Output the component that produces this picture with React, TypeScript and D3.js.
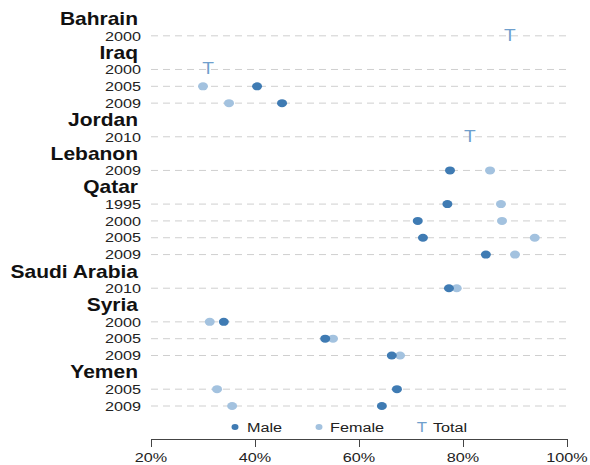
import React, {useEffect, useRef} from 'react'
import * as d3 from 'd3'

type Row = {country: string; year?: string; male?: number; female?: number; total?: number}

const countries = ['Bahrain', 'Iraq', 'Jordan', 'Lebanon', 'Qatar', 'Saudi Arabia', 'Syria', 'Yemen']
const years: string[][] = [
    ['2000'],
    ['2000', '2005', '2009'],
    ['2010'],
    ['2009'],
    ['1995', '2000', '2005', '2009'],
    ['2010'],
    ['2000', '2005', '2009'],
    ['2005', '2009'],
]
const maleValues: (number | null)[][] = [
    [null],
    [null, 40.4, 45.2],
    [null],
    [77.5],
    [77, 71.3, 72.3, 84.4],
    [77.3],
    [34, 53.5, 66.3],
    [67.3, 64.4],
]
const femaleValues: (number | null)[][] = [
    [null],
    [null, 30, 35],
    [null],
    [85.2],
    [87.3, 87.5, 93.8, 90],
    [78.8],
    [31.3, 55, 67.9],
    [32.7, 35.6],
]
const totalValues: (number | null)[][] = [
    [89],
    [31, null, null],
    [81.3],
    [null],
    [null, null, null, null],
    [null],
    [null, null, null],
    [null, null],
]
const xTicks = [20, 40, 60, 80, 100]

const MALE = '#3f7bb3'
const FEMALE = '#a3c2df'
const TOTAL = '#6f9fcd'
const SX = 1.2 // the reference text is a bit stretched sideways

export default function App() {
    const svgRef = useRef<SVGSVGElement>(null)

    useEffect(() => {
        const svg = d3.select(svgRef.current)
        svg.selectAll('*').remove()

        const font = 'Liberation Sans, Arial, sans-serif'
        const rows: Row[] = []
        countries.forEach((c, ci) => {
            rows.push({country: c})
            years[ci].forEach((y, yi) => {
                rows.push({
                    country: c,
                    year: y,
                    male: maleValues[ci][yi] ?? undefined,
                    female: femaleValues[ci][yi] ?? undefined,
                    total: totalValues[ci][yi] ?? undefined,
                })
            })
        })

        const x = d3.scaleLinear().domain([20, 100]).range([151, 567])
        const y = d3.scaleLinear().domain([0, rows.length - 1]).range([19, 406])

        const g = svg.append('g').attr('font-family', font)

        // text with a horizontal stretch, anchored at (tx, ty)
        const label = (tx: number, ty: number, txt: string, size: number, anchor: string, opts: any = {}) =>
            g.append('text')
                .attr('transform', `translate(${tx},${ty}) scale(${SX},1)`)
                .attr('text-anchor', anchor)
                .attr('dy', '0.35em')
                .attr('font-size', size)
                .attr('font-weight', opts.bold ? 'bold' : 'normal')
                .attr('fill', opts.fill ?? '#222')
                .text(txt)

        rows.forEach((r, i) => {
            const yy = y(i)
            if (!r.year) {
                label(138, yy, r.country, 17.5, 'end', {bold: true, fill: '#111'})
                return
            }
            label(141, yy, r.year, 13.5, 'end')
            g.append('line')
                .attr('x1', x(20)).attr('x2', x(100))
                .attr('y1', yy).attr('y2', yy)
                .attr('stroke', '#cfcfcf').attr('stroke-width', 1)
                .attr('stroke-dasharray', '7,5')
            if (r.female != null) {
                g.append('ellipse').attr('cx', x(r.female)).attr('cy', yy).attr('rx', 5).attr('ry', 4).attr('fill', FEMALE)
            }
            if (r.male != null) {
                g.append('ellipse').attr('cx', x(r.male)).attr('cy', yy).attr('rx', 5).attr('ry', 4).attr('fill', MALE)
            }
            if (r.total != null) {
                g.append('text')
                    .attr('transform', `translate(${x(r.total)},${yy + 5}) scale(${SX},1)`)
                    .attr('text-anchor', 'middle')
                    .attr('font-size', 16)
                    .attr('fill', TOTAL)
                    .text('T')
            }
        })

        // legend
        const ly = 427
        const legend = [
            {label: 'Male', lx: 235, tx: 247, kind: 'dot', color: MALE},
            {label: 'Female', lx: 319, tx: 330, kind: 'dot', color: FEMALE},
            {label: 'Total', lx: 422, tx: 433, kind: 'T', color: TOTAL},
        ]
        legend.forEach(l => {
            if (l.kind === 'dot') {
                g.append('ellipse').attr('cx', l.lx).attr('cy', ly).attr('rx', 3.5).attr('ry', 3).attr('fill', l.color)
            } else {
                g.append('text')
                    .attr('transform', `translate(${l.lx},${ly + 5}) scale(${SX},1)`)
                    .attr('text-anchor', 'middle')
                    .attr('font-size', 14).attr('fill', l.color).text('T')
            }
            label(l.tx, ly, l.label, 13.5, 'start')
        })

        // axis
        const axis = g.append('g').attr('transform', 'translate(0,439)')
        axis.call(d3.axisBottom(x).tickValues(xTicks).tickSize(8).tickSizeOuter(0).tickFormat(d => `${d}%`))
        axis.select('.domain').attr('stroke', '#444')
        axis.selectAll('.tick line').attr('stroke', '#444')
        axis.selectAll('.tick text').remove()
        xTicks.forEach(t => {
            g.append('text')
                .attr('transform', `translate(${x(t)},462) scale(${SX},1)`)
                .attr('text-anchor', 'middle')
                .attr('font-size', 13.5).attr('fill', '#222')
                .text(`${t}%`)
        })
    }, [])

    return (
        <svg ref={svgRef} width={590} height={465}
             style={{position: 'absolute', left: 0, top: 0, background: '#fff'}}/>
    )
}
